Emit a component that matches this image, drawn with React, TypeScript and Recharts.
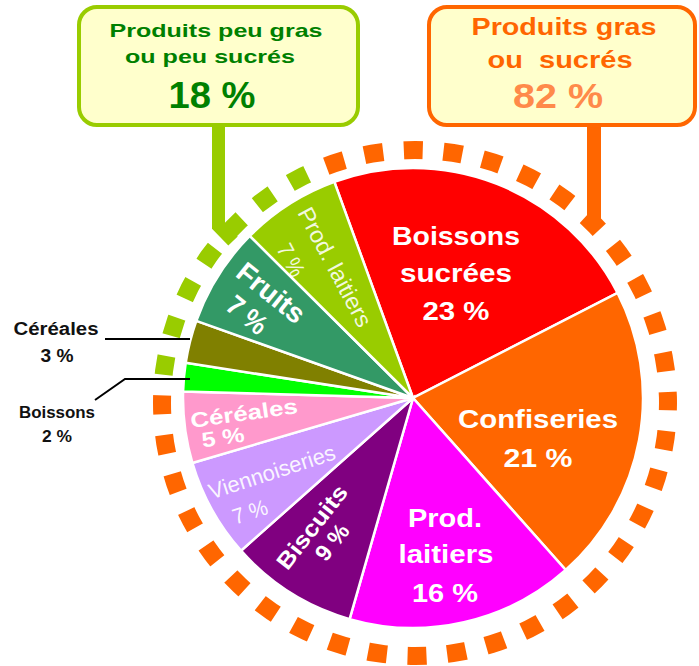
import { PieChart, Pie, Cell } from 'recharts';

// slices, clockwise from the top-left edge of "Boissons sucrées"
const CATEGORIES = [
  'Boissons sucrées',
  'Confiseries',
  'Prod. laitiers',
  'Biscuits',
  'Viennoiseries',
  'Céréales',
  'Boissons',
  'Céréales',
  'Fruits',
  'Prod. laitiers',
];
const SHARES = [23, 21, 16, 9, 7, 5, 2, 3, 7, 7];
const SLICE_COLORS = ['#FF0000', '#FF6600', '#FF00FF', '#800080', '#CC99FF', '#FF99CC', '#00FF00', '#808000', '#339966', '#99CC00'];

// outer dashed ring
const GROUPS = ['Produits gras ou sucrés', 'Produits peu gras ou peu sucrés'];
const GROUP_SHARES = [82, 18];
const GROUP_COLORS = ['#FF6600', '#99CC00'];

const W = 699;
const H = 666;
const CX = 413;
const CY = 398;
const RING_CX = 415;
const RING_CY = 403;
const FONT = '"Liberation Sans", Arial, sans-serif';

const sliceData = CATEGORIES.map((name, i) => ({ name, value: SHARES[i] }));
const ringData = GROUPS.map((name, i) => ({ name, value: GROUP_SHARES[i] }));

type LabelSpec = {
  rows: [number, number, number][]; // dx, dy from centre, text length
  rot: number;
  size: number;
  bold: boolean;
  color: string;
  opacity?: number;
  split?: boolean;
  leader?: [number, number][];
};

const LABELS: LabelSpec[] = [
  { rows: [[43, -162, 128], [43, -125, 112], [43, -87, 67]], rot: 0, size: 25, bold: true, color: '#fff', split: true },
  { rows: [[125, 21, 160], [125, 60, 69]], rot: 0, size: 25, bold: true, color: '#fff' },
  { rows: [[32, 120, 74], [33, 156, 95], [32, 195, 66]], rot: 0, size: 25, bold: true, color: '#fff', split: true },
  { rows: [[-101, 129, 100], [-81, 144, 40]], rot: -52, size: 23, bold: true, color: '#fff' },
  { rows: [[-141, 74, 132], [-163, 114, 36]], rot: -18, size: 22, bold: false, color: '#fff', opacity: 0.92 },
  { rows: [[-169, 15, 108], [-190, 39, 43]], rot: -8, size: 21, bold: true, color: '#fff' },
  {
    rows: [[-356, 14, 76], [-356, 38, 30]], rot: 0, size: 16, bold: true, color: '#111',
    leader: [[-318, 2], [-288, -19], [-223, -19]],
  },
  {
    rows: [[-357, -69, 85], [-356, -42, 33]], rot: 0, size: 18, bold: true, color: '#111',
    leader: [[-308, -59], [-223, -59]],
  },
  { rows: [[-142, -105, 79], [-166, -83, 44]], rot: 39, size: 28, bold: true, color: '#fff' },
  { rows: [[-78, -131, 132], [-122, -138, 34]], rot: 62, size: 23, bold: false, color: '#fff', opacity: 0.88 },
];

const renderLabel = (props: any) => {
  const { index } = props;
  const cx = typeof props.cx === 'number' ? props.cx : CX;
  const cy = typeof props.cy === 'number' ? props.cy : CY;
  const spec = LABELS[index];
  const name = CATEGORIES[index];
  const texts = [...(spec.split ? name.split(' ') : [name]), `${SHARES[index]} %`];
  return (
    <g key={`lbl-${index}`}>
      {spec.rows.map(([dx, dy, len], i) => (
        <text
          key={i}
          x={cx + dx}
          y={cy + dy}
          transform={spec.rot ? `rotate(${spec.rot} ${cx + dx} ${cy + dy})` : undefined}
          textAnchor="middle"
          dominantBaseline="central"
          textLength={len}
          lengthAdjust="spacingAndGlyphs"
          fontFamily={FONT}
          fontSize={spec.size}
          fontWeight={spec.bold ? 700 : 400}
          fill={spec.color}
          fillOpacity={spec.opacity ?? 1}
        >
          {texts[i]}
        </text>
      ))}
    </g>
  );
};

// 40 dashes of 4.3deg on the ring, the rest painted white
const RING_R = 253;
const PX_PER_DEG = (RING_R * Math.PI) / 180;

function Decor() {
  return (
    <svg width={W} height={H} style={{ position: 'absolute', left: 0, top: 0, pointerEvents: 'none' }}>
      <circle
        cx={RING_CX}
        cy={RING_CY}
        r={RING_R}
        fill="none"
        stroke="#fff"
        strokeWidth={22}
        strokeDasharray={`${4.7 * PX_PER_DEG} ${4.3 * PX_PER_DEG}`}
        transform={`rotate(1.65 ${RING_CX} ${RING_CY})`}
      />

      {/* leader lines of the outside labels, over the ring */}
      {LABELS.filter((l) => l.leader).map((l, i) => (
        <polyline
          key={i}
          points={l.leader!.map(([x, y]) => `${CX + x},${CY + y}`).join(' ')}
          fill="none"
          stroke="#000"
          strokeWidth={2}
        />
      ))}

      {/* connectors */}
      <polyline points="218.5,124 218.5,226 233,241" fill="none" stroke="#99CC00" strokeWidth={13} strokeLinejoin="miter" />
      <line x1={594} y1={124} x2={594} y2={222} stroke="#FF6600" strokeWidth={14} />

      {/* green box */}
      <rect x={79} y={7} width={279} height={118} rx={18} fill="#FFFFCC" stroke="#99CC00" strokeWidth={4} />
      <g fontFamily={FONT} fontWeight={700} fill="#008000" textAnchor="middle">
        <text x={216} y={37} fontSize={19} textLength={213} lengthAdjust="spacingAndGlyphs">Produits peu gras</text>
        <text x={210} y={63} fontSize={19} textLength={170} lengthAdjust="spacingAndGlyphs">ou peu sucrés</text>
        <text x={212} y={108} fontSize={37} textLength={87} lengthAdjust="spacingAndGlyphs">18 %</text>
      </g>

      {/* orange box */}
      <rect x={429} y={7} width={266} height={118} rx={18} fill="#FFFFCC" stroke="#FF6600" strokeWidth={4} />
      <g fontFamily={FONT} fontWeight={700} textAnchor="middle">
        <text x={564} y={35} fontSize={23} fill="#FF6600" textLength={185} lengthAdjust="spacingAndGlyphs">Produits gras</text>
        <text x={560} y={68} fontSize={23} fill="#FF6600" textLength={145} lengthAdjust="spacingAndGlyphs" style={{ whiteSpace: 'pre' }}>ou  sucrés</text>
        <text x={558} y={108} fontSize={35} fill="#FF8A4A" textLength={90} lengthAdjust="spacingAndGlyphs">82 %</text>
      </g>
    </svg>
  );
}

export default function App() {
  return (
    <div style={{ position: 'absolute', left: 0, top: 0, width: W, height: H, background: '#fff' }}>
      <PieChart width={W} height={H} margin={{ top: 0, right: 0, bottom: 0, left: 0 }}>
        <Pie
          data={ringData}
          dataKey="value"
          nameKey="name"
          cx={RING_CX}
          cy={RING_CY}
          innerRadius={244}
          outerRadius={262}
          startAngle={112.1}
          endAngle={-247.9}
          stroke="none"
          isAnimationActive={false}
        >
          {ringData.map((_, i) => (
            <Cell key={i} fill={GROUP_COLORS[i]} />
          ))}
        </Pie>
        <Pie
          data={sliceData}
          dataKey="value"
          nameKey="name"
          cx={CX}
          cy={CY}
          outerRadius={230}
          startAngle={110}
          endAngle={-250}
          stroke="#fff"
          strokeWidth={2.5}
          label={renderLabel}
          labelLine={false}
          isAnimationActive={false}
        >
          {sliceData.map((_, i) => (
            <Cell key={i} fill={SLICE_COLORS[i]} />
          ))}
        </Pie>
      </PieChart>
      <Decor />
    </div>
  );
}
